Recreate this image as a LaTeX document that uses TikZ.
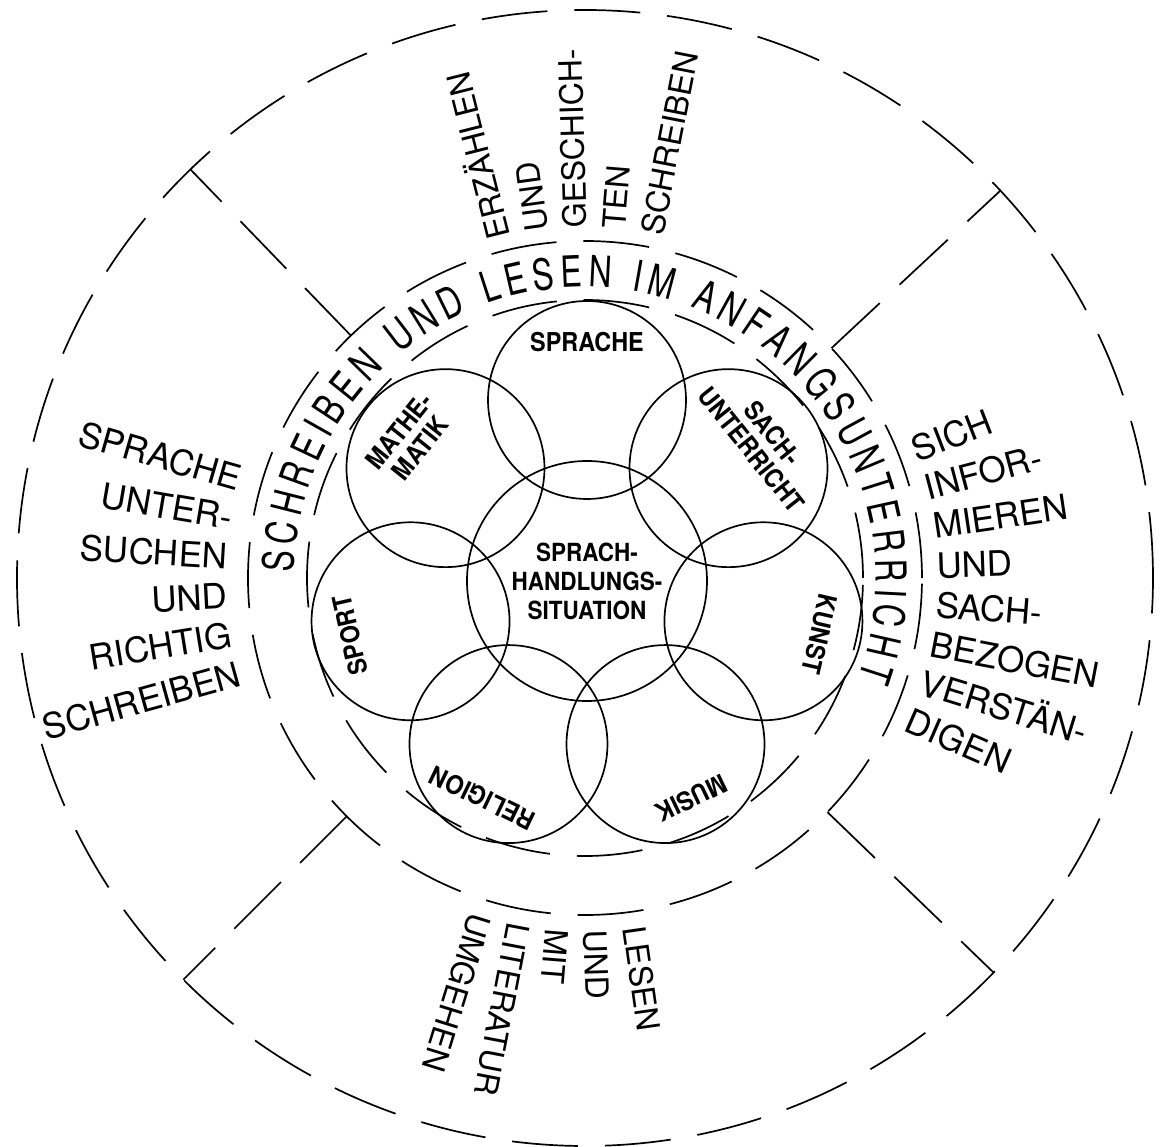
\documentclass[tikz,border=0pt]{standalone}
\usepackage{fontspec}
\setmainfont{TeX Gyre Heros}
\newfontfamily\ringfont{TeX Gyre Heros}[FakeStretch=0.74]
\newfontfamily\subjfont{TeX Gyre Heros}[FakeStretch=0.9]
\usetikzlibrary{calc,decorations.text}

\begin{document}
\begin{tikzpicture}[x=1pt,y=1pt,
  ringline/.style={line width=1.7pt, dash pattern=on 66pt off 27pt},
  subject/.style={circle, draw, line width=1.7pt, minimum size=198pt, inner sep=0pt},
  subjlabel/.style={font=\subjfont\bfseries\fontsize{26}{27}\selectfont, align=center, inner sep=0pt},
  sidetext/.style={font=\fontsize{35}{40}\selectfont, inner sep=0pt, text height=25pt, text depth=0pt},
  axistext/.style={font=\fontsize{32}{36}\selectfont, inner sep=0pt, text height=23pt, text depth=0pt}]
  \useasboundingbox (-585,-569) rectangle (575,578);

  % rings
  \draw[ringline] (0,0) circle (568);
  \draw[ringline] (0,0) circle (337);
  \draw[ringline] (0,0) circle (278);

  % sector dividers
  \foreach \a/\n in {134/nw, 43/ne, -44/se, -135/sw} {
    \coordinate (\n-in) at (\a:337);
    \coordinate (\n-out) at (\a:568);
    \draw[ringline] (\n-in) -- (\n-out);
  }

  % text in the ring
  \path[decorate, decoration={text along path, text align=fit to path,
      text={|\ringfont\fontsize{43}{43}\selectfont|SCHREIBEN UND LESEN IM ANFANGSUNTERRICHT}}]
    (179:291) arc[start angle=179, end angle=-20, radius=291];

  % subject circles
  \coordinate (fc) at (2,-3);
  \node[subject, minimum size=240pt] (centre) at (fc) {};
  \foreach \a/\n in {90/sprache, 141.43/mathe, 192.86/sport, 244.29/religion,
                     295.71/musik, 347.14/kunst, 38.57/sach}
    \node[subject] (\n) at ($(fc)+(\a:181)$) {};

  \node[subjlabel, font=\subjfont\bfseries\fontsize{25}{29}\selectfont] (lbl-centre) at (fc)
    {SPRACH-\\HANDLUNGS-\\SITUATION};
  \foreach \a/\r/\n/\t in {90/239/sprache/SPRACHE, 141.43/227/mathe/{MATHE-\\MATIK},
                           192.86/243/sport/SPORT, 244.29/241/religion/RELIGION,
                           295.71/241/musik/MUSIK, 347.14/239/kunst/KUNST,
                           38.57/224/sach/{SACH-\\UNTERRICHT}}
    \node[subjlabel, rotate=\a-90] (lbl-\n) at ($(fc)+(\a:\r)$) {\t};

  % outer fields
  \foreach \w [count=\i from 0] in {ERZÄHLEN, UND, GESCHICH-, TEN, SCHREIBEN} {
    \pgfmathsetmacro\ang{104.2-6.3*\i}
    \node[axistext, anchor=west, rotate=\ang] (top\i) at (\ang:350) {\w};
  }
  \foreach \w [count=\i from 0] in {LESEN, UND, MIT, LITERATUR, UMGEHEN} {
    \pgfmathsetmacro\ang{-82-6.3*\i}
    \node[axistext, anchor=west, rotate=\ang] (bot\i) at (\ang:352) {\w};
  }
  \foreach \w [count=\i from 0] in {SPRACHE, UNTER-, SUCHEN, UND, RICHTIG, SCHREIBEN} {
    \pgfmathsetmacro\ang{164+6.3*\i}
    \node[sidetext, anchor=east, rotate=\ang-180] (left\i) at (\ang:358) {\w};
  }
  \foreach \w [count=\i from 0] in {SICH, INFOR-, MIEREN, UND, SACH-, BEZOGEN, VERSTÄN-, DIGEN} {
    \pgfmathsetmacro\ang{21.2-6.4*\i}
    \node[sidetext, anchor=west, rotate=\ang] (right\i) at (\ang:352) {\w};
  }
\end{tikzpicture}
\end{document}
